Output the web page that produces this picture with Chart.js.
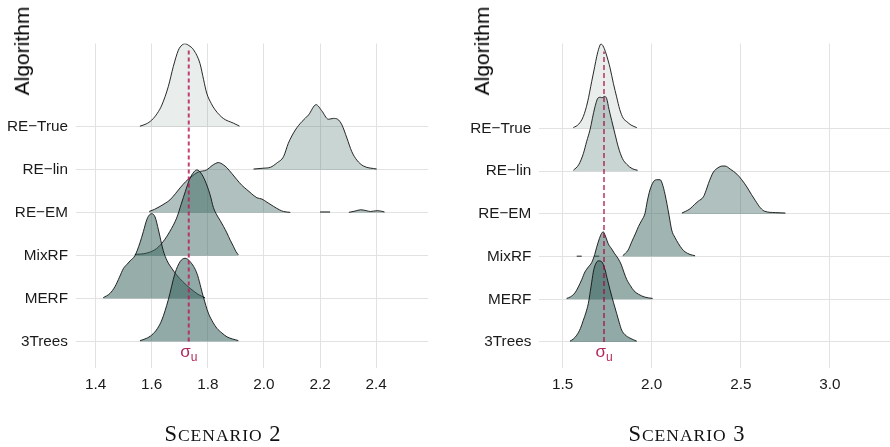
<!DOCTYPE html>
<html>
<head>
<meta charset="utf-8">
<script src="https://cdn.jsdelivr.net/npm/chart.js@4.4.0/dist/chart.umd.min.js"></script>
<style>
  body { margin: 0; background: #fff; }
  #wrap { position: relative; width: 890px; height: 447px; overflow: hidden; }
  canvas { position: absolute; top: 0; }
  #c2 { left: 0; }
  #c3 { left: 445px; }
  .ylab { position: absolute; font: 21px "Liberation Sans", Arial, sans-serif; color: #000;
          white-space: nowrap; transform: translate(-50%, -50%) rotate(-90deg); }
  .cap { position: absolute; width: 300px; text-align: center; font-family: "Liberation Serif", serif;
         font-size: 22.5px; line-height: 22.5px; letter-spacing: 1px; color: #111; }
  .cap .sc { font-size: 17.5px; }
</style>
</head>
<body>
<div id="wrap">
  <canvas id="c2" width="445" height="447"></canvas>
  <canvas id="c3" width="445" height="447"></canvas>
  <div class="ylab" style="left:22px; top:51px;">Algorithm</div>
  <div class="ylab" style="left:482px; top:51px;">Algorithm</div>
  <div class="cap" style="left:73px; top:423px;">S<span class="sc">CENARIO</span> 2</div>
  <div class="cap" style="left:537px; top:423px;">S<span class="sc">CENARIO</span> 3</div>
</div>
<script>
// rows from bottom to top
var algorithms = ['3Trees', 'MERF', 'MixRF', 'RE\u2212EM', 'RE\u2212lin', 'RE\u2212True'];
var sigmaU = 1.732;

var s2Ticks = [1.4, 1.6, 1.8, 2.0, 2.2, 2.4];
var s3Ticks = [1.5, 2.0, 2.5, 3.0];

// ridge outlines: [value, density height in rows], null = gap
var s2_3Trees = [[1.558,0.02],[1.580,0.07],[1.600,0.15],[1.620,0.30],[1.636,0.50],[1.659,0.97],[1.683,1.59],[1.701,1.86],[1.719,1.94],[1.737,1.86],[1.761,1.59],[1.784,1.04],[1.802,0.66],[1.818,0.45],[1.832,0.31],[1.850,0.20],[1.868,0.11],[1.909,0.02]];
var s2_MERF = [[1.427,0.02],[1.451,0.12],[1.469,0.28],[1.485,0.50],[1.499,0.70],[1.512,0.80],[1.523,0.88],[1.540,1.00],[1.558,1.30],[1.570,1.56],[1.583,1.85],[1.593,1.96],[1.600,1.98],[1.612,1.90],[1.624,1.60],[1.641,1.12],[1.655,0.88],[1.672,0.70],[1.689,0.55],[1.710,0.40],[1.737,0.24],[1.765,0.10],[1.790,0.02]];
var s2_MixRF = [[1.540,0.03],[1.582,0.06],[1.618,0.17],[1.641,0.33],[1.665,0.57],[1.689,0.88],[1.705,1.20],[1.720,1.50],[1.735,1.78],[1.750,1.95],[1.761,2.00],[1.775,1.93],[1.790,1.75],[1.808,1.42],[1.820,1.12],[1.832,0.95],[1.844,0.82],[1.856,0.68],[1.868,0.53],[1.880,0.36],[1.891,0.22],[1.900,0.10],[1.909,0.02]];
var s2_REEM = [[1.591,0.03],[1.610,0.08],[1.630,0.15],[1.650,0.23],[1.665,0.30],[1.685,0.45],[1.701,0.58],[1.720,0.72],[1.737,0.82],[1.766,0.95],[1.796,1.00],[1.815,1.10],[1.838,1.17],[1.855,1.12],[1.868,1.05],[1.885,0.92],[1.904,0.77],[1.920,0.65],[1.939,0.54],[1.955,0.45],[1.975,0.35],[1.993,0.32],[2.010,0.25],[2.034,0.15],[2.055,0.07],[2.070,0.03],[2.094,0.01],[2.100,null],[2.200,0.02],[2.236,0.02],[2.240,null],[2.303,0.01],[2.325,0.04],[2.345,0.07],[2.365,0.05],[2.380,0.03],[2.404,0.05],[2.430,0.02]];
var s2_RElin = [[1.963,0.02],[2.000,0.04],[2.023,0.06],[2.046,0.16],[2.070,0.31],[2.087,0.62],[2.112,0.93],[2.136,1.13],[2.159,1.28],[2.186,1.52],[2.206,1.38],[2.230,1.18],[2.248,1.20],[2.263,1.18],[2.278,1.05],[2.296,0.74],[2.313,0.43],[2.331,0.23],[2.355,0.09],[2.402,0.02]];
var s2_RETrue = [[1.558,0.02],[1.580,0.07],[1.600,0.16],[1.620,0.32],[1.636,0.51],[1.659,0.94],[1.677,1.41],[1.695,1.79],[1.708,1.91],[1.719,1.94],[1.732,1.90],[1.749,1.80],[1.772,1.48],[1.785,1.10],[1.796,0.79],[1.812,0.55],[1.826,0.40],[1.855,0.20],[1.891,0.09],[1.913,0.02]];

var s3_3Trees = [[1.541,0.02],[1.560,0.07],[1.579,0.16],[1.600,0.32],[1.616,0.51],[1.630,0.68],[1.644,0.90],[1.655,1.18],[1.663,1.40],[1.675,1.70],[1.688,1.85],[1.700,1.90],[1.719,1.88],[1.738,1.69],[1.752,1.45],[1.766,1.22],[1.785,0.93],[1.803,0.67],[1.818,0.45],[1.831,0.28],[1.850,0.17],[1.878,0.09],[1.916,0.02]];
var s3_MERF = [[1.522,0.02],[1.545,0.06],[1.569,0.15],[1.588,0.29],[1.607,0.46],[1.625,0.64],[1.645,0.76],[1.663,0.86],[1.680,1.05],[1.691,1.22],[1.706,1.42],[1.718,1.54],[1.728,1.58],[1.740,1.48],[1.756,1.30],[1.775,1.18],[1.790,1.08],[1.812,0.95],[1.830,0.80],[1.845,0.62],[1.860,0.46],[1.880,0.32],[1.900,0.20],[1.925,0.12],[1.962,0.05],[2.005,0.02]];
var s3_MixRF = [[1.579,0.01],[1.607,0.01],[1.610,null],[1.677,0.01],[1.705,0.01],[1.710,null],[1.837,0.02],[1.867,0.15],[1.888,0.35],[1.910,0.55],[1.925,0.70],[1.944,0.85],[1.962,1.01],[1.975,1.30],[1.990,1.56],[2.009,1.75],[2.028,1.80],[2.047,1.80],[2.058,1.72],[2.075,1.45],[2.097,0.97],[2.112,0.62],[2.130,0.45],[2.149,0.31],[2.170,0.18],[2.187,0.11],[2.215,0.05],[2.243,0.02]];
var s3_REEM = [[2.169,0.02],[2.190,0.06],[2.215,0.12],[2.240,0.22],[2.262,0.30],[2.290,0.40],[2.305,0.55],[2.318,0.71],[2.332,0.86],[2.346,0.98],[2.372,1.08],[2.395,1.12],[2.412,1.12],[2.440,1.05],[2.478,0.93],[2.505,0.80],[2.534,0.63],[2.560,0.45],[2.580,0.32],[2.610,0.14],[2.635,0.06],[2.693,0.03],[2.750,0.02]];
var s3_RElin = [[1.560,0.02],[1.590,0.15],[1.616,0.41],[1.635,0.70],[1.653,0.96],[1.681,1.50],[1.700,1.72],[1.712,1.73],[1.722,1.72],[1.734,1.75],[1.747,1.70],[1.760,1.45],[1.775,1.19],[1.795,0.85],[1.812,0.57],[1.835,0.30],[1.860,0.16],[1.890,0.06],[1.921,0.02]];
var s3_RETrue = [[1.560,0.02],[1.590,0.10],[1.616,0.28],[1.640,0.62],[1.663,1.10],[1.680,1.45],[1.691,1.68],[1.705,1.90],[1.715,1.98],[1.727,1.93],[1.740,1.80],[1.756,1.58],[1.766,1.42],[1.785,1.05],[1.803,0.74],[1.820,0.45],[1.840,0.24],[1.860,0.16],[1.884,0.08],[1.916,0.02]];

var fillAlpha = [0.54, 0.52, 0.47, 0.40, 0.27, 0.11];
var fontFam = '"Liberation Sans", Arial, sans-serif';

function ridgeSets(series) {
  return series.map(function(s, i) {
    var row = i + 1;
    return {
      label: algorithms[i],
      data: s.map(function(p) { return {x: p[0], y: p[1] === null ? null : row + p[1]}; }),
      borderColor: '#111',
      borderWidth: 0.9,
      backgroundColor: 'rgba(54,98,92,' + fillAlpha[i] + ')',
      fill: {value: row},
      pointRadius: 0,
      cubicInterpolationMode: 'monotone',
      spanGaps: false,
      order: row + 1
    };
  });
}

var sigmaLabel = {
  id: 'sigmaLabel',
  afterDatasetsDraw: function(chart) {
    var ctx = chart.ctx;
    var px = chart.scales.x.getPixelForValue(sigmaU);
    ctx.save();
    ctx.fillStyle = '#b0285a';
    ctx.font = '17px ' + fontFam;
    var w1 = ctx.measureText('\u03c3').width;
    ctx.font = '12px ' + fontFam;
    var w2 = ctx.measureText('u').width;
    var x0 = px - (w1 + w2) / 2;
    ctx.textBaseline = 'alphabetic';
    ctx.textAlign = 'left';
    ctx.font = '17px ' + fontFam;
    ctx.fillText('\u03c3', x0, 356.5);
    ctx.font = '12px ' + fontFam;
    ctx.fillText('u', x0 + w1, 360.5);
    ctx.restore();
  }
};

function makePanel(id, series, ticks, xmin, xmax, ymin, ymax, axisW, padRight, dash) {
  var sets = ridgeSets(series);
  sets.push({
    label: 'sigma',
    data: [{x: sigmaU, y: 1}, {x: sigmaU, y: 7.8}],
    borderColor: dash.color,
    borderWidth: dash.width,
    borderDash: dash.pattern,
    pointRadius: 0,
    fill: false,
    order: 0
  });
  new Chart(document.getElementById(id).getContext('2d'), {
    type: 'line',
    data: {datasets: sets},
    options: {
      responsive: false,
      animation: false,
      events: [],
      layout: {padding: {top: 43.5, left: 0, right: padRight, bottom: 39}},
      plugins: {legend: {display: false}, tooltip: {enabled: false}},
      scales: {
        x: {
          type: 'linear', min: xmin, max: xmax,
          afterBuildTicks: function(scale) { scale.ticks = ticks.map(function(v) { return {value: v}; }); },
          afterFit: function(scale) { scale.height = 40; },
          grid: {color: '#e2e2e2', lineWidth: 1, drawTicks: false},
          border: {display: false},
          ticks: {padding: 8, color: '#1a1a1a', font: {family: fontFam, size: 15.3},
                  callback: function(v) { return v.toFixed(1); }}
        },
        y: {
          type: 'linear', min: ymin, max: ymax,
          afterBuildTicks: function(scale) { scale.ticks = algorithms.map(function(a, i) { return {value: i + 1}; }); },
          afterFit: function(scale) { scale.width = axisW; },
          grid: {color: '#e2e2e2', lineWidth: 1, drawTicks: false},
          border: {display: false},
          ticks: {padding: 8, color: '#1a1a1a', font: {family: fontFam, size: 15.3},
                  callback: function(v) { return algorithms[v - 1]; }}
        }
      }
    },
    plugins: [sigmaLabel]
  });
}

makePanel('c2', [s2_3Trees, s2_MERF, s2_MixRF, s2_REEM, s2_RElin, s2_RETrue], s2Ticks,
  1.330, 2.585, 0.382, 7.946, 76, 17, {color: 'rgba(185,30,90,0.85)', width: 2, pattern: [4, 3]});
makePanel('c3', [s3_3Trees, s3_MERF, s3_MixRF, s3_REEM, s3_RElin, s3_RETrue], s3Ticks,
  1.369, 3.337, 0.391, 7.99, 94.3, 0, {color: '#a8003f', width: 1.2, pattern: [5, 3]});
</script>
</body>
</html>
